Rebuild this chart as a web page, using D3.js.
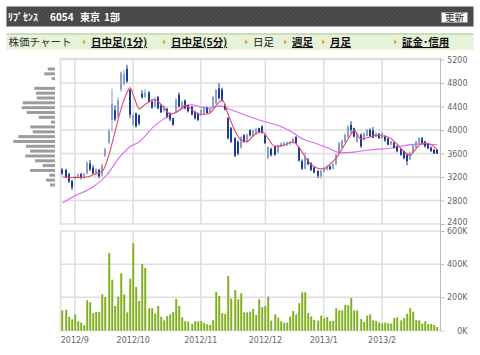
<!DOCTYPE html>
<html><head><meta charset="utf-8">
<script src="https://cdnjs.cloudflare.com/ajax/libs/d3/7.8.5/d3.min.js"></script>
<style>body{margin:0;background:#fff;} svg{display:block;}</style>
</head><body><div id="chart"></div>
<script>
// daily candles, 2012/8/28 .. 2013/2/28 (index = trading day)
var opens=[3330,3320,3250,3130,3180,3200,3250,3190,3260,3430, 3360,3260,3320,3230,3560,3780,4170,4340,4230,4690,
	4780,5040,4680,4090,4280,4250,4620,4560,4640,4480, 4400,4560,4420,4330,4360,4280,4200,4300,4600,4380,
	4500,4420,4400,4310,4280,4260,4280,4370,4300,4380, 4450,4710,4690,4420,4200,4030,3860,3800,3700,3910,
	3800,4000,3890,3930,4030,4060,3910,3520,3680,3720, 3620,3720,3730,3740,3760,3780,3880,3700,3470,3340,
	3500,3440,3360,3300,3210,3290,3320,3380,3340,3420, 3600,3700,3800,3880,4090,4030,3800,3920,3830,3900,
	4000,3990,3880,3930,3860,3900,3860,3750,3780,3720, 3680,3640,3580,3500,3620,3700,3770,3860,3800,3760,
	3700,3660,3660];
var highs=[3350,3340,3270,3150,3230,3260,3270,3270,3470,3490, 3400,3350,3340,3420,3700,4010,4700,4420,4560,5000,
	5020,5110,4720,4280,4300,4270,4680,4700,4660,4530, 4560,4580,4440,4420,4380,4300,4210,4540,4640,4500,
	4520,4440,4410,4320,4300,4360,4400,4400,4390,4580, 4700,4800,4720,4440,4220,4050,3880,3820,3900,3930,
	3940,4010,4010,4040,4040,4080,3930,3720,3700,3740, 3750,3790,3800,3800,3810,3870,3900,3720,3500,3620,
	3520,3450,3380,3320,3330,3380,3400,3400,3440,3600, 3800,3840,3940,4080,4150,4040,3960,3940,3960,4020,
	4030,4050,3960,3950,3970,3910,3870,3820,3800,3740, 3690,3650,3600,3640,3760,3820,3880,3880,3820,3780,
	3720,3680,3670];
var lows=[3230,3180,3100,2980,3160,3180,3160,3170,3240,3300, 3240,3230,3180,3210,3540,3760,3970,4150,4200,4650,
	4760,4800,4200,4060,4040,4080,4530,4540,4460,4360, 4380,4350,4290,4300,4200,4150,4070,4290,4380,4360,
	4350,4300,4250,4180,4150,4250,4270,4280,4290,4370, 4440,4520,4480,4330,3840,3780,3540,3570,3680,3780,
	3790,3890,3880,3920,3950,3940,3760,3500,3550,3560, 3600,3710,3720,3730,3740,3760,3760,3460,3320,3330,
	3400,3300,3260,3180,3170,3280,3310,3320,3330,3400, 3590,3690,3780,3860,3950,3870,3780,3700,3810,3890,
	3880,3860,3870,3850,3850,3800,3740,3740,3680,3620, 3560,3500,3400,3490,3610,3690,3760,3770,3700,3670,
	3630,3590,3590];
var closes=[3260,3200,3120,3020,3210,3240,3180,3250,3440,3330, 3260,3330,3210,3400,3680,3990,4450,4180,4510,4980,
	4950,4830,4260,4250,4060,4110,4560,4640,4480,4380, 4510,4370,4300,4400,4230,4180,4090,4510,4400,4480,
	4370,4320,4260,4200,4170,4340,4380,4290,4370,4560, 4680,4540,4500,4350,3860,3800,3560,3600,3880,3800,
	3920,3910,3990,4020,3960,3950,3780,3710,3570,3580, 3730,3770,3780,3790,3800,3850,3770,3480,3340,3540,
	3420,3320,3280,3220,3310,3360,3380,3330,3420,3580, 3780,3820,3920,4060,4000,3890,3940,3720,3940,4000,
	3900,3870,3940,3860,3950,3820,3750,3810,3700,3640, 3580,3520,3470,3620,3740,3800,3860,3780,3720,3690,
	3640,3600,3600];
// volume, thousand shares
var volumes=[121,125,83,67,97,55,47,31,182,170, 105,111,111,218,202,467,306,148,204,344,
	216,109,312,525,262,178,400,377,134,134, 101,148,83,61,87,97,111,190,148,79,
	55,53,39,55,55,57,45,37,33,61, 232,208,105,99,328,192,244,188,224,109,
	109,113,130,93,188,140,148,204,59,97, 77,55,47,47,85,117,97,164,230,230,
	105,85,63,59,89,73,81,57,57,134, 121,121,154,152,196,121,121,69,51,89,
	97,61,57,47,41,47,43,41,75,79, 61,75,101,134,113,63,61,41,55,39,
	39,33,21];
// moving averages: [day index, price]
var maShort=[[0,3200],[4,3190],[8,3200],[11,3260],[13,3300],[15,3560],[17,3950],[19,4350],[21,4640],[22,4720],
	[23,4600],[25,4360],[27,4440],[30,4520],[33,4380],[35,4270],[37,4300],[40,4420],[42,4350],[45,4260],
	[48,4290],[50,4420],[52,4510],[54,4250],[56,4000],[58,3830],[60,3800],[62,3900],[65,3970],[67,3850],
	[69,3720],[72,3740],[75,3800],[77,3700],[80,3460],[83,3350],[85,3340],[87,3420],[89,3520],[91,3680],
	[93,3850],[95,3990],[97,3850],[100,3880],[102,3910],[106,3880],[109,3750],[111,3640],[113,3570],[115,3680],
	[117,3770],[119,3770],[122,3660]];
var maLong=[[0,2760],[3.5,2865],[10,3035],[14.4,3234],[18.7,3546],[22,3716],[25,3800],[29.5,4050],[33,4190],[38,4330],
	[42,4430],[45,4390],[48,4370],[51,4410],[54.5,4350],[59.4,4255],[64.5,4160],[71,4060],[74.5,3970],[78,3850],
	[82.5,3770],[87,3680],[90.5,3610],[95.7,3630],[100,3660],[106.6,3690],[115.3,3760],[122,3750]];
// price-by-volume bins
var pvPrices=[5038,4956,4874,4791,4709,4627,4545,4463,4380,4298,4216,4134,4052,3969,3887,3805,3723,3641,3558,3476,3394,3312,3230,3147,3065];
var pvVolumes=[730,1070,330,0,2070,1900,1830,3230,3330,2830,1630,400,2470,2230,3670,4170,2900,2500,2970,2000,1230,2500,570,900,500];

var monthStart=[4,23,45,66,85,104];
var monthLabels=["2012/9","2012/10","2012/11","2012/12","2013/1","2013/2"];
var priceTicks=[2400,2800,3200,3600,4000,4400,4800,5200];
var volTicks=[0,200,400,600];
var navLinks=[["日中足(1分)",91,true],["日中足(5分)",171,true],["日足",253,false],["週足",292,true],["月足",330,true],["証金･信用",402,true]];

var width=480, height=355;
var jp="'Noto Sans CJK JP', sans-serif";
var svg=d3.select("#chart").append("svg").attr("width",width).attr("height",height);

// header bar
var pat=svg.append("defs").append("pattern").attr("id","stripe").attr("width",3).attr("height",3)
	.attr("patternUnits","userSpaceOnUse").attr("patternTransform","rotate(45)");
pat.append("rect").attr("width",3).attr("height",3).attr("fill","#464646");
pat.append("rect").attr("width",1).attr("height",3).attr("fill","#525252");
svg.append("rect").attr("x",6.5).attr("y",6.5).attr("width",467).attr("height",20).attr("fill","url(#stripe)");
var title=svg.append("g").attr("font-family",jp).attr("font-size",10).attr("font-weight","bold").attr("fill","#fff");
[["ﾘﾌﾟｾﾝｽ",8],["6054",50],["東京",80],["1部",104]].forEach(function(t){
	title.append("text").attr("x",t[1]).attr("y",20.5).text(t[0]);
});
svg.append("rect").attr("x",441.5).attr("y",12.5).attr("width",26).attr("height",10).attr("fill","#f6f6f6").attr("stroke","#999");
svg.append("text").attr("x",454.5).attr("y",21).attr("text-anchor","middle").attr("font-family",jp)
	.attr("font-size",9.5).attr("fill","#222").text("更新");

// nav bar
svg.append("rect").attr("x",6.5).attr("y",33).attr("width",467).attr("height",17).attr("fill","#e7f2da");
svg.append("line").attr("x1",6.5).attr("x2",473.5).attr("y1",34).attr("y2",34).attr("stroke","#cadcb8").attr("stroke-width",2);
svg.append("text").attr("x",8.5).attr("y",46).attr("font-family",jp).attr("font-size",10.5).attr("fill","#333").text("株価チャート");
navLinks.forEach(function(l){
	var x0=l[1];
	svg.append("path").attr("d","M"+(x0-8)+",39.5L"+(x0-5)+",42L"+(x0-8)+",44.5Z").attr("fill","#f0a020");
	svg.append("text").attr("x",x0).attr("y",46).attr("font-family",jp).attr("font-size",10.5)
		.attr("font-weight",l[2]?"bold":"normal").attr("fill","#111")
		.style("text-decoration",l[2]?"underline":"none").text(l[0]);
});

// scales
var n=closes.length;
var x=d3.scaleBand().domain(d3.range(n)).range([61,439]).paddingInner(0.3).paddingOuter(0.15);
var xc=function(i){return x(i)+x.bandwidth()/2;};
var xl=d3.scaleLinear().domain([0,n-1]).range([xc(0),xc(n-1)]);
var y=d3.scaleLinear().domain([2400,5200]).range([224,59.5]);
var yv=d3.scaleLinear().domain([0,600]).range([330.5,231]);
var pvW=d3.scaleLinear().domain([0,d3.max(pvVolumes)]).range([0,41.7]);

// grids
var grid=svg.append("g").attr("stroke","#dedede").attr("stroke-width",1.5);
priceTicks.forEach(function(p){
	grid.append("line").attr("x1",60).attr("x2",440).attr("y1",y(p)).attr("y2",y(p));
});
volTicks.forEach(function(v){
	grid.append("line").attr("x1",60).attr("x2",440).attr("y1",yv(v)).attr("y2",yv(v));
});
monthStart.forEach(function(i){
	grid.append("line").attr("x1",xc(i)).attr("x2",xc(i)).attr("y1",58).attr("y2",224);
	grid.append("line").attr("x1",xc(i)).attr("x2",xc(i)).attr("y1",231).attr("y2",330.5);
});
grid.append("line").attr("x1",60).attr("x2",440).attr("y1",58.5).attr("y2",58.5);
grid.append("line").attr("x1",60.5).attr("x2",60.5).attr("y1",58).attr("y2",224);
grid.append("line").attr("x1",60.5).attr("x2",60.5).attr("y1",231).attr("y2",331);

// price-by-volume
svg.append("g").selectAll("rect").data(pvPrices).enter().append("rect")
	.attr("x",function(d,k){return 55-pvW(pvVolumes[k]);})
	.attr("y",function(d){return y(d)-1.5;})
	.attr("width",function(d,k){return pvW(pvVolumes[k]);})
	.attr("height",3).attr("fill","#9c9c9c");

// moving averages
var line=d3.line().x(function(d){return xl(d[0]);}).y(function(d){return y(d[1]);}).curve(d3.curveMonotoneX);
svg.append("path").attr("d",line(maLong)).attr("fill","none").attr("stroke","#dd66f0").attr("stroke-width",1.1);

// candles
var upCol="#8a9fca", dnCol="#1d3c97";
var cg=svg.append("g");
d3.range(n).forEach(function(i){
	var up=closes[i]>=opens[i], col=up?upCol:dnCol;
	var bx=Math.round(x(i));
	cg.append("line").attr("x1",bx+1).attr("x2",bx+1).attr("y1",y(highs[i])).attr("y2",y(lows[i]))
		.attr("stroke",col).attr("stroke-width",1);
	var top=y(Math.max(opens[i],closes[i])), bot=y(Math.min(opens[i],closes[i]));
	cg.append("rect").attr("x",bx).attr("y",top).attr("width",2).attr("height",Math.max(1,bot-top)).attr("fill",col);
});
svg.append("path").attr("d",line(maShort)).attr("fill","none").attr("stroke","#e8485e").attr("stroke-width",1.1);

// volume bars
var vg=svg.append("g");
volumes.forEach(function(v,i){
	var bx=Math.round(x(i));
	vg.append("rect").attr("x",bx).attr("y",yv(v)).attr("width",2).attr("height",yv(0)-yv(v)).attr("fill","#9dc64a");
	vg.append("rect").attr("x",bx+1.3).attr("y",yv(v)).attr("width",0.9).attr("height",yv(0)-yv(v)).attr("fill","#77a31a");
});

// axes
var pAxis=svg.append("g").attr("transform","translate(440.5,0)")
	.call(d3.axisRight(y).tickValues(priceTicks).tickSize(4).tickPadding(2).tickFormat(d3.format("d")));
var vAxis=svg.append("g").attr("transform","translate(440.5,0)")
	.call(d3.axisRight(yv).tickValues(volTicks).tickSize(4).tickFormat(function(d){return d+"K";}));
[pAxis,vAxis].forEach(function(a){
	a.select(".domain").remove();
	a.selectAll(".tick line").attr("stroke","#bbb");
	a.selectAll("text").attr("x",27).attr("text-anchor","end").attr("fill","#666")
		.attr("font-family","'DejaVu Sans', sans-serif").attr("font-size",8);
});
// lowest price label sits just above the volume panel's top label
pAxis.selectAll(".tick").filter(function(d){return d===2400;}).select("text").attr("dy","0.05em");
svg.append("line").attr("x1",440.5).attr("x2",440.5).attr("y1",58).attr("y2",331).attr("stroke","#bbb");

var xAxis=svg.append("g").attr("transform","translate(0,331)")
	.call(d3.axisBottom(x).tickValues(monthStart).tickSize(0).tickPadding(6).tickFormat(function(d,k){return monthLabels[k];}));
xAxis.select(".domain").remove();
xAxis.selectAll("text").attr("fill","#666").attr("font-family","'DejaVu Sans', sans-serif").attr("font-size",8);
</script></body></html>
